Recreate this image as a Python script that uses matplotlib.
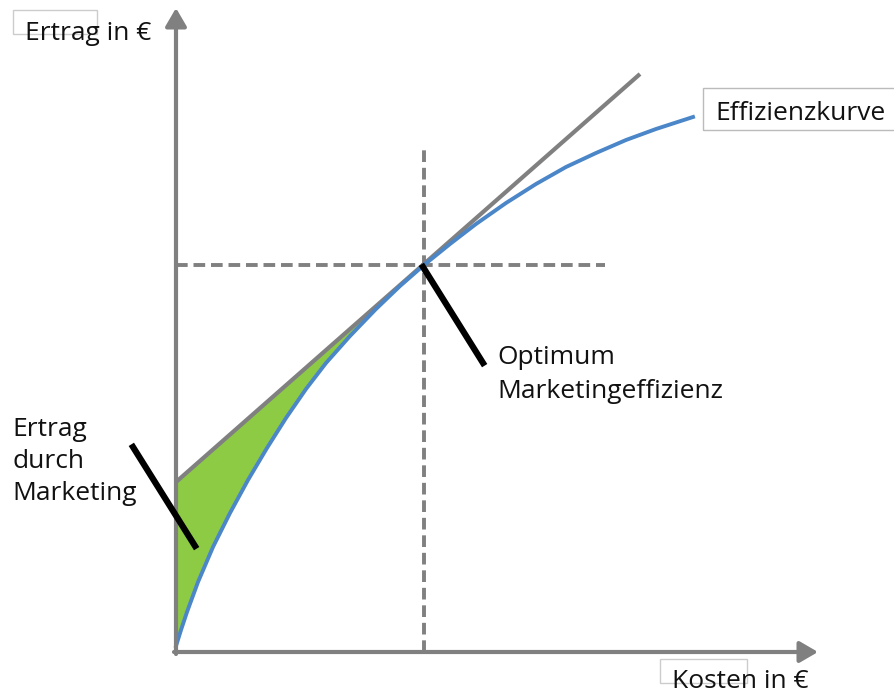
import numpy as np
import matplotlib.pyplot as plt
from matplotlib.patches import Rectangle

# units: pixels from the origin of the diagram (Kosten to the right, Ertrag up)
kosten = [0, 5, 11, 22, 37, 54, 72, 91, 110, 130, 150, 174, 200, 224, 248,
          274, 300, 330, 360, 390, 420, 450, 480, 517]
ertrag = [6, 22, 40, 70, 105, 139, 172, 204, 234, 263, 289, 316, 343, 366, 387,
          408, 428, 449, 468, 485, 499, 512, 523, 535]

tangente_x = [0, 464]
tangente_y = [170, 578]

optimum = (248, 387)

grau = "#808080"
blau = "#4a86c8"
gruen = "#8dcb45"

fig = plt.figure(figsize=(8.94, 6.92), dpi=100)
ax = fig.add_axes([0, 0, 1, 1])
ax.set_xlim(-176, 718)
ax.set_ylim(-40, 652)
ax.axis("off")

# green area between tangent and curve
k = np.array(kosten)
mask = k <= optimum[0]
ax.fill_between(k[mask], np.interp(k[mask], tangente_x, tangente_y),
                np.array(ertrag)[mask], color=gruen, lw=0, zorder=1)

# dashed helper lines
ax.plot([0, 429], [optimum[1], optimum[1]], ls=(0, (3, 1.5)), lw=2.8, color=grau, zorder=2)
ax.plot([optimum[0], optimum[0]], [0, 502], ls=(0, (3, 1.5)), lw=2.8, color=grau, zorder=2)

# tangent and efficiency curve
ax.plot(tangente_x, tangente_y, color=grau, lw=3, zorder=3, solid_capstyle="butt")
ax.plot(kosten, ertrag, color=blau, lw=2.8, zorder=4, solid_joinstyle="round")

# axes with arrowheads
pfeil = dict(arrowstyle="-|>,head_length=0.55,head_width=0.32", lw=3, color=grau,
             shrinkA=0, shrinkB=0, mutation_scale=20)
ax.annotate("", xy=(0, 644), xytext=(0, -2), arrowprops=pfeil, zorder=5)
ax.annotate("", xy=(642, 0), xytext=(-2, 0), arrowprops=pfeil, zorder=5)

# pointer lines
ax.plot([optimum[0] - 1, 307], [optimum[1] - 2, 289], color="black", lw=4.5, zorder=6)
ax.plot([-43, 19], [205, 106], color="black", lw=4.5, zorder=6)

font = dict(family=["Open Sans", "DejaVu Sans"], fontsize=19, color="#111111")

# small boxes behind labels
ax.add_patch(Rectangle((-163, 618), 84, 24, fill=False, ec="#cccccc", lw=1, zorder=0))
ax.add_patch(Rectangle((484, -31), 87, 24, fill=False, ec="#cccccc", lw=1, zorder=0))
ax.add_patch(Rectangle((527, 522), 200, 42, fill=False, ec="#bbbbbb", lw=1, zorder=0))

ax.text(-151, 618, "Ertrag in €", va="center", ha="left", **font)
ax.text(539, 539, "Effizienzkurve", va="center", ha="left", **font)
ax.text(496, -29, "Kosten in €", va="center", ha="left", **font)
ax.text(321, 294, "Optimum", va="center", ha="left", **font)
ax.text(321, 261, "Marketingeffizienz", va="center", ha="left", **font)
ax.text(-164, 223, "Ertrag", va="center", ha="left", **font)
ax.text(-164, 190, "durch", va="center", ha="left", **font)
ax.text(-164, 158, "Marketing", va="center", ha="left", **font)

plt.savefig("out.png", dpi=100)
